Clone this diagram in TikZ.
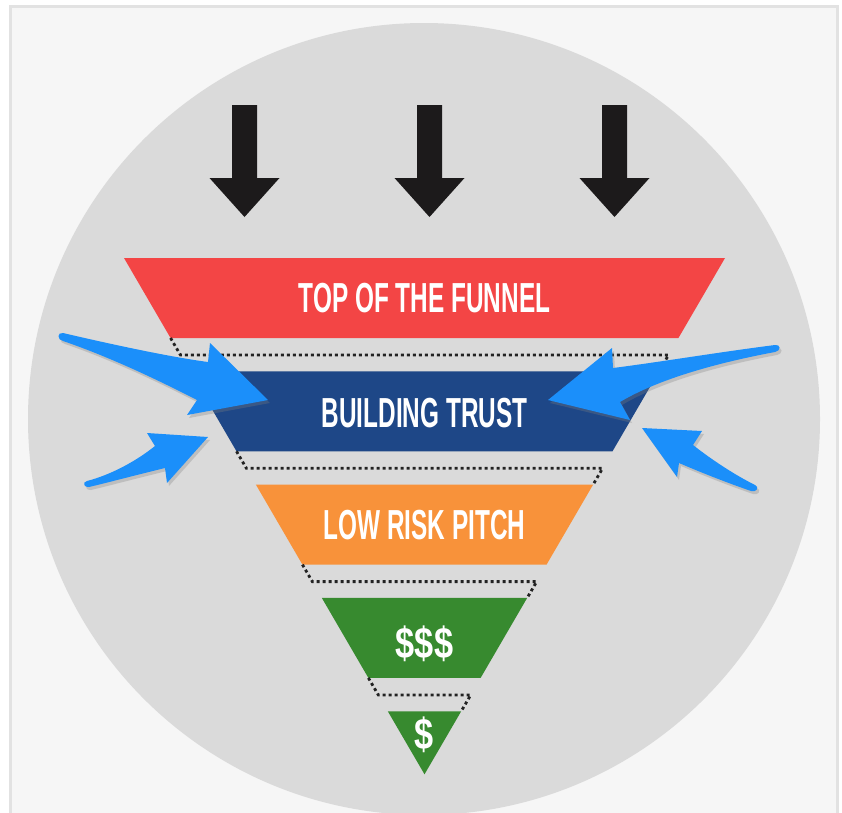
\documentclass[tikz,border=0pt]{standalone}
\usepackage{fontspec}
\usepackage{tikz}
\usetikzlibrary{shadows}

\newfontfamily\bandfont[FakeStretch=0.58]{Liberation Sans}
\newfontfamily\cashfont[FakeStretch=0.78]{Liberation Sans}

\definecolor{framebg}{HTML}{F6F6F6}
\definecolor{frameline}{HTML}{E2E2E2}
\definecolor{discgray}{HTML}{DADADA}
\definecolor{funnelred}{HTML}{F34545}
\definecolor{trustnavy}{HTML}{1E4787}
\definecolor{pitchorange}{HTML}{F8923A}
\definecolor{cashgreen}{HTML}{378A2F}
\definecolor{swooshblue}{HTML}{1B8FFA}
\definecolor{arrowblack}{HTML}{1C1A1B}
\definecolor{dashgray}{HTML}{222222}

\begin{document}
\begin{tikzpicture}[x=1pt, y=-1pt,
    declare function={edgel(\y)=124+(\y-258)*0.582; edger(\y)=725-(\y-258)*0.582;}]
    % styles
    \tikzstyle{label} = [text=white, inner sep=0pt, font=\bandfont\bfseries\fontsize{42}{42}\selectfont]
    \tikzstyle{cashlabel} = [label, font=\cashfont\bfseries\fontsize{44}{44}\selectfont]
    \tikzstyle{gap} = [draw=dashgray, line width=2.8pt, dash pattern=on 3pt off 3pt]
    \tikzstyle{swoosh} = [fill=swooshblue, drop shadow={shadow xshift=2pt, shadow yshift=-3pt, opacity=0.3}]
    \tikzstyle{down} = [fill=arrowblack]

    \useasboundingbox (0,0) rectangle (842,812);

    % backdrop
    \fill[white] (0,0) rectangle (842,812);
    \draw[frameline, line width=3pt, fill=framebg] (10,6) rectangle (837,840);
    \fill[discgray] (424,419) circle (396);

    % arrows from above
    \foreach \c in {244.5, 429.5, 614.5} {
        \fill[down] (\c-12.5,105) -- (\c+12.5,105) -- (\c+12.5,178) -- (\c+35,178)
            -- (\c,217) -- (\c-35,178) -- (\c-12.5,178) -- cycle;
    }

    % funnel bands
    \foreach \i/\col in {0/funnelred, 1/trustnavy, 2/pitchorange, 3/cashgreen} {
        \pgfmathsetmacro{\yt}{258+113.3*\i}
        \pgfmathsetmacro{\yb}{\yt+80}
        \fill[\col] ({edgel(\yt)},\yt) -- ({edger(\yt)},\yt) -- ({edger(\yb)},\yb) -- ({edgel(\yb)},\yb) -- cycle;
    }
    \fill[cashgreen] ({edgel(711.3)},711.3) -- ({edger(711.3)},711.3) -- (424.5,774.3) -- cycle;

    % dashed gaps
    \foreach \i in {0,...,3} {
        \pgfmathsetmacro{\yb}{338+113.3*\i}
        \pgfmathsetmacro{\yd}{\yb+17}
        \pgfmathsetmacro{\yn}{\yb+33.3}
        \draw[gap] ({edgel(\yb)},\yb) -- ({edgel(\yd)},\yd) -- ({edger(\yd)},\yd) -- ({edger(\yn)},\yn);
    }

    % labels
    \node (top) [label] at (424.5,298) {TOP OF THE FUNNEL};
    \node (trust) [label] at (424.5,413) {BUILDING TRUST};
    \node (pitch) [label] at (424.5,525) {LOW RISK PITCH};
    \node (cash) [cashlabel] at (424.5,644) {\$\$\$};
    \node (dollar) [cashlabel] at (424.5,735) {\$};

    % arrows from the sides
    \fill[swoosh] (63,333) .. controls (110,344) and (170,357) .. (208,362) -- (210,343) -- (268,400)
        -- (187,415) -- (197,400) .. controls (160,381) and (110,357) .. (63,341)
        .. controls (57,340) and (57,332) .. (63,333) -- cycle;
    \fill[swoosh] (87,481) .. controls (110,475) and (135,462) .. (155,446) -- (147,433) -- (208,437)
        -- (167,483) -- (165,468) .. controls (140,474) and (110,482) .. (89,487)
        .. controls (84,488) and (82,482) .. (87,481) -- cycle;
    \fill[swoosh] (775,345) .. controls (720,352) and (660,362) .. (613,368) -- (612,348) -- (548,400)
        -- (630,420) -- (620,402) .. controls (650,384) and (700,366) .. (775,352)
        .. controls (781,351) and (781,344) .. (775,345) -- cycle;
    \fill[swoosh] (755,485) .. controls (735,475) and (712,460) .. (693,445) -- (702,431) -- (642,428)
        -- (677,477) -- (679,463) .. controls (700,472) and (725,482) .. (751,491)
        .. controls (756,493) and (760,487) .. (755,485) -- cycle;
\end{tikzpicture}
\end{document}
